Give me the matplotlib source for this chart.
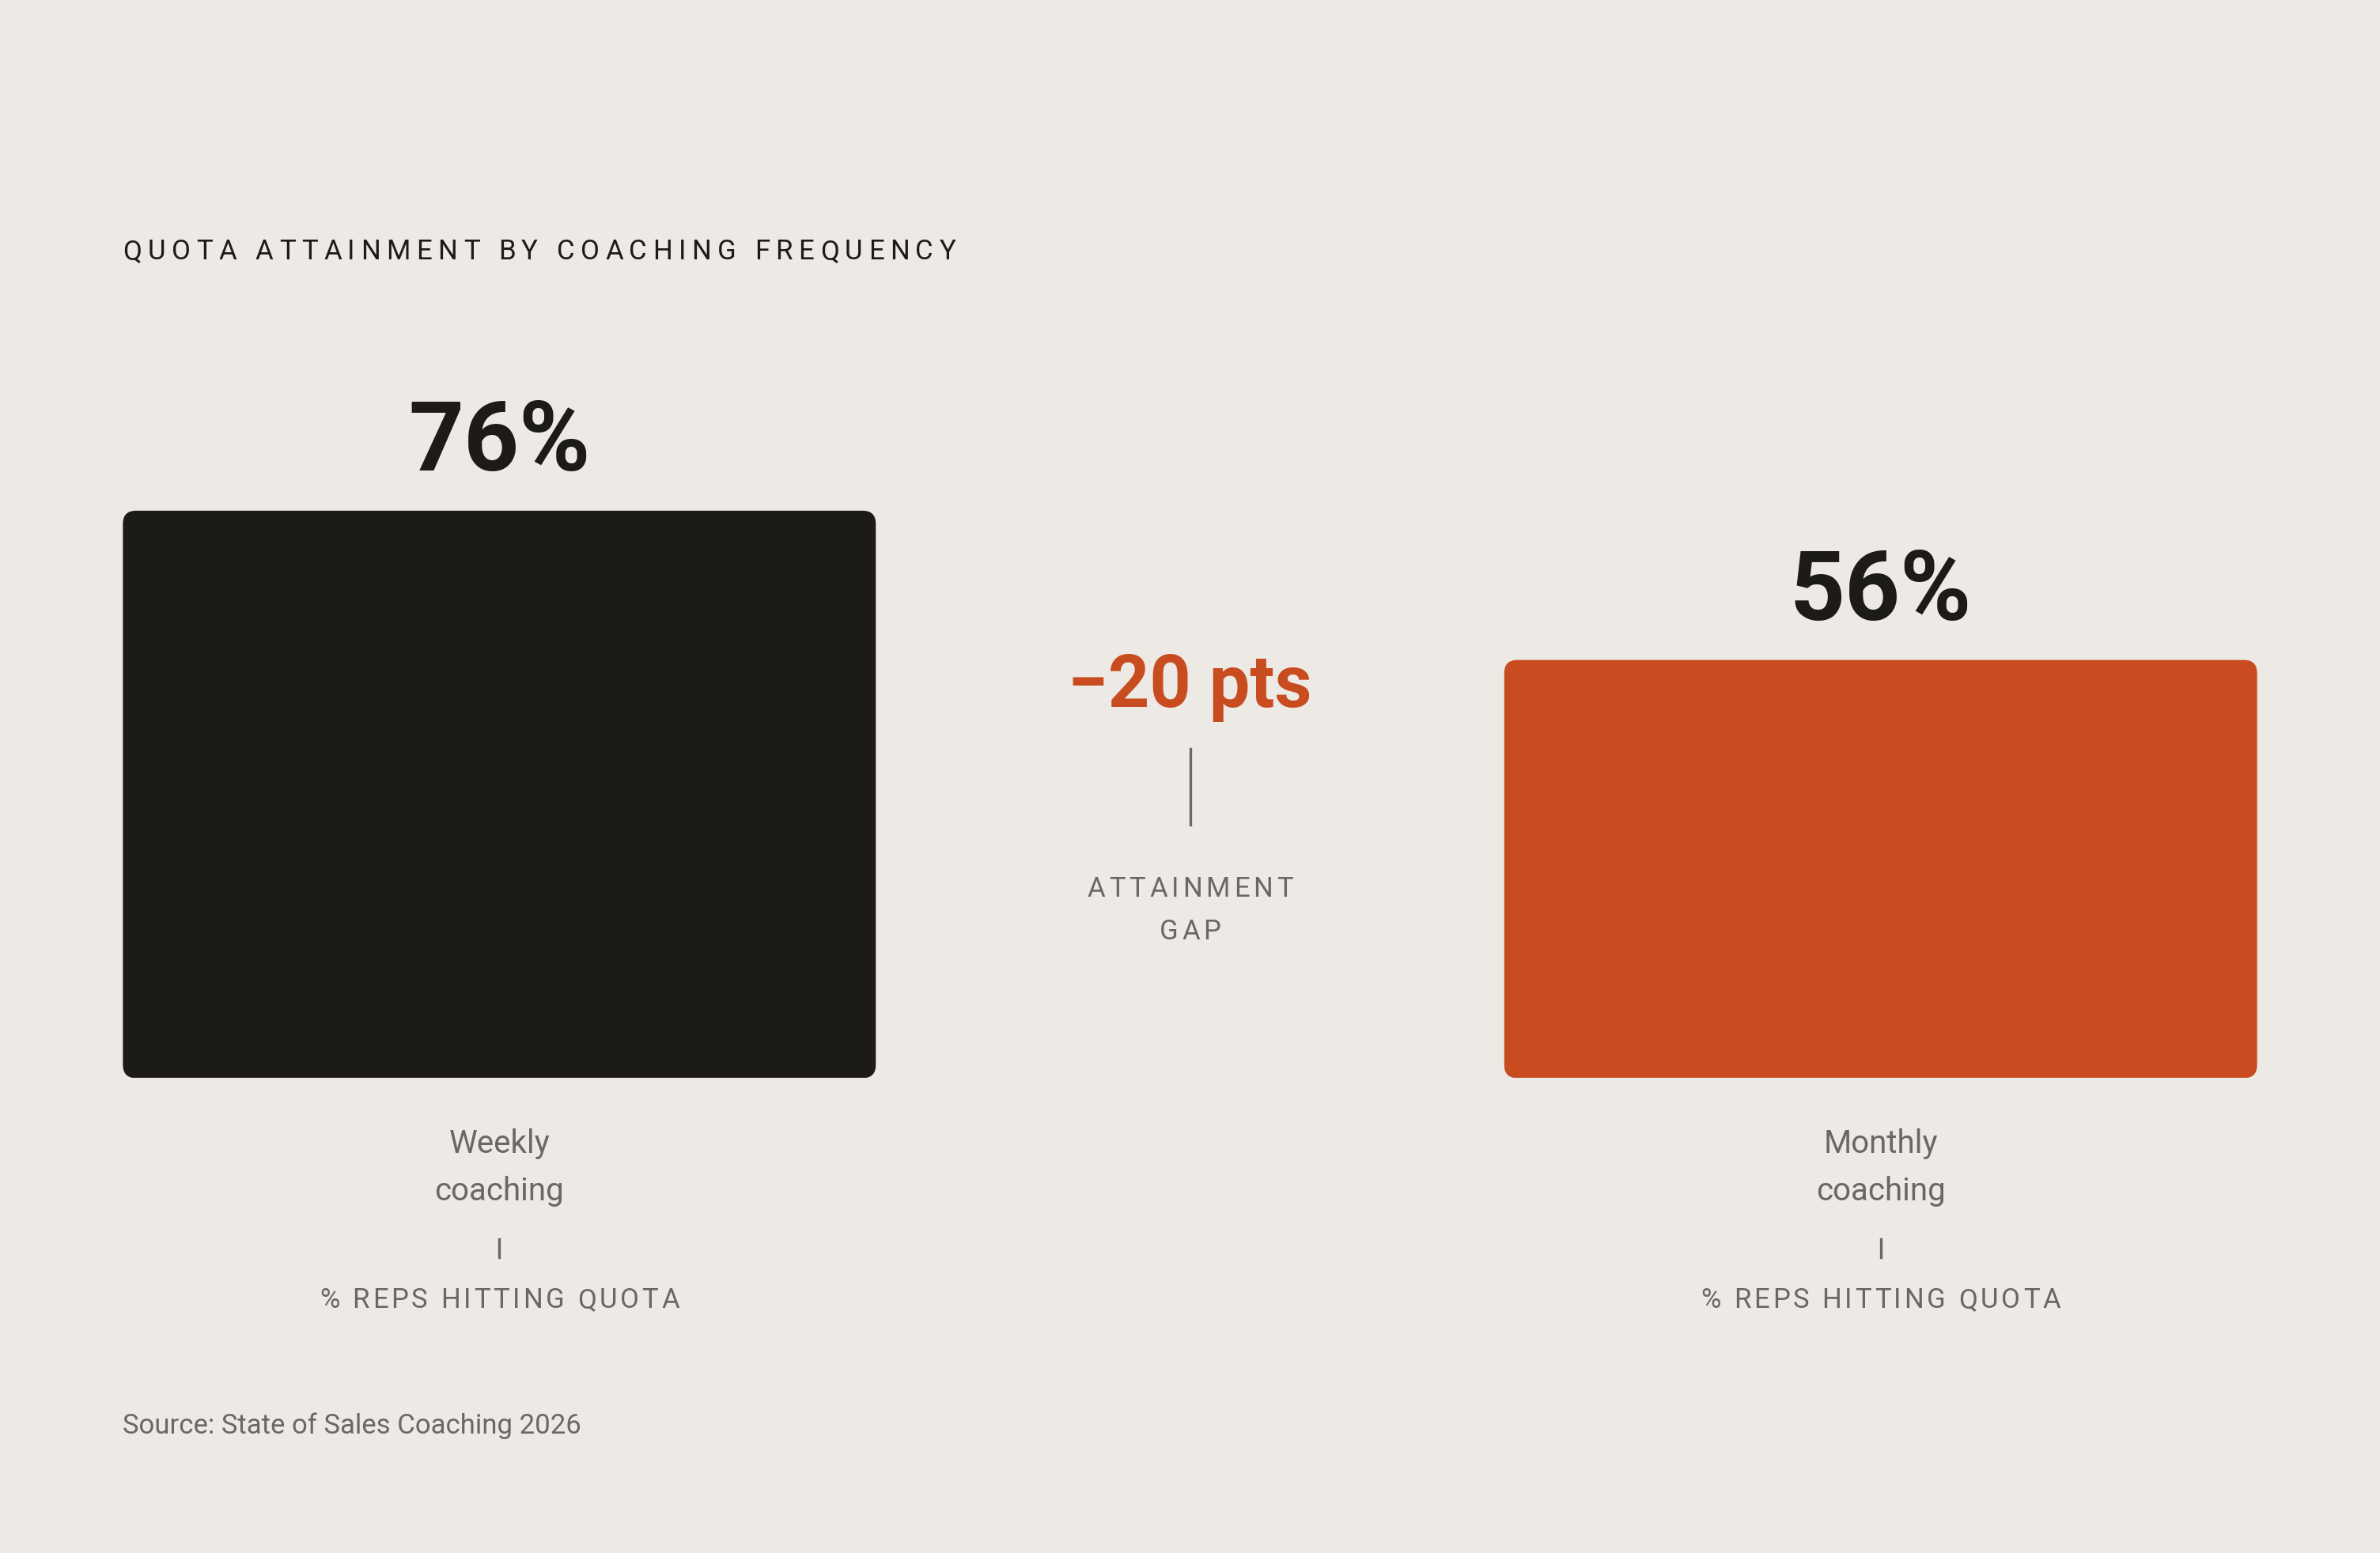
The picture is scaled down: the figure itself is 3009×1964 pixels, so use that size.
import matplotlib
matplotlib.use('Agg')
import matplotlib.pyplot as plt
from matplotlib.patches import FancyBboxPatch
from matplotlib.font_manager import FontProperties, findfont, get_font
from matplotlib.transforms import IdentityTransform

# data
categories = ['Weekly\ncoaching', 'Monthly\ncoaching']
values = [76, 56]
value_labels = ['76%', '56%']
unit_label = '% REPS HITTING QUOTA'
gap_caption = ['ATTAINMENT', 'GAP']
title = 'QUOTA ATTAINMENT BY COACHING FREQUENCY'
source = 'Source: State of Sales Coaching 2026'

BG = '#edeae5'
INK = '#1c1b17'
ORANGE = '#c84c1f'
GREY = '#6b6863'
colors = [INK, ORANGE]

DPI = 200
W, H = 3009, 1965
S = W / 1568.0  # reference was read at 1568 px wide


def px(x, y):
    return x * S, H - y * S


FAMILY = ['Roboto', 'DejaVu Sans']

fig = plt.figure(figsize=(W / DPI, H / DPI), dpi=DPI, facecolor=BG)

ax = fig.add_axes([81 / 1568, 1 - 711 / 1024, 1406 / 1568, 492 / 1024])
ax.set_facecolor(BG)
ax.set_xlim(-0.2725, 1.2725)
ax.set_ylim(0, 100)
ax.axis('off')

bw = 496 / 910
bars = ax.bar(range(len(values)), values, width=bw, color=colors)

# swap the square bars for rounded ones
p0 = ax.transData.transform((0, 0))
p1 = ax.transData.transform((1, 1))
aspect = (p1[0] - p0[0]) / (p1[1] - p0[1])
for b, c in zip(bars, colors):
    b.set_visible(False)
    ax.add_patch(FancyBboxPatch((b.get_x(), b.get_y()), b.get_width(), b.get_height(),
                                boxstyle='round,pad=0,rounding_size=0.0095',
                                mutation_aspect=aspect, fc=c, ec='none'))


def spaced(x, y, s, size, track, ha='left', color=INK, weight='normal'):
    # letter-spaced text, x/y in pixels (y = baseline)
    prop = FontProperties(family=FAMILY, size=size, weight=weight)
    font = get_font(findfont(prop))
    font.set_size(size, DPI)
    adv = [font.load_char(ord(ch)).linearHoriAdvance / 65536 for ch in s]
    t = track * size * DPI / 72
    total = sum(adv) + t * (len(s) - 1)
    if ha == 'center':
        x -= total / 2
    for ch, a in zip(s, adv):
        fig.text(x, y, ch, fontproperties=prop, color=color, va='baseline', ha='left',
                 transform=IdentityTransform())
        x += a + t


def data_px(xd):
    return ax.transData.transform((xd, 0))[0]


# title + source
tx, ty = px(81, 171)
spaced(tx, ty, title, 12.5, 0.215, color=INK)
sx, sy = px(81, 945)
fig.text(sx, sy, source, family=FAMILY, fontsize=12.5, color=GREY, va='baseline',
         transform=IdentityTransform())

# value labels, category labels
for i, (v, lab, cat) in enumerate(zip(values, value_labels, categories)):
    ax.annotate(lab, (i, v), xytext=(0, 18.5), textcoords='offset points', ha='center',
                va='baseline', fontsize=44, fontweight='bold', family=FAMILY, color=INK)
    xc = data_px(i)
    for j, line in enumerate(cat.split('\n')):
        _, yb = px(0, 760 + 31 * j)
        fig.text(xc, yb, line, family=FAMILY, fontsize=14.5, color=GREY, ha='center',
                 va='baseline', transform=IdentityTransform())
    _, y1 = px(0, 817)
    _, y2 = px(0, 829)
    fig.add_artist(plt.Line2D([xc, xc], [y1, y2], color=GREY, lw=1.2,
                              transform=IdentityTransform()))
    _, yb = px(0, 862)
    spaced(xc, yb, unit_label, 12.5, 0.11, ha='center', color=GREY)

# gap annotation between the bars
gap = values[1] - values[0]
gx = data_px(0.5)
_, gy = px(0, 466)
fig.text(gx, gy, f'\u2212{abs(gap)} pts', family=FAMILY, fontsize=33, fontweight='bold',
         color=ORANGE, ha='center', va='baseline', transform=IdentityTransform())
_, y1 = px(0, 494)
_, y2 = px(0, 544)
fig.add_artist(plt.Line2D([gx, gx], [y1, y2], color=GREY, lw=1.2,
                          transform=IdentityTransform()))
for j, line in enumerate(gap_caption):
    _, yb = px(0, 591 + 28 * j)
    spaced(gx, yb, line, 12.5, 0.14, ha='center', color=GREY)

fig.savefig('out.png', dpi=DPI, facecolor=BG)
